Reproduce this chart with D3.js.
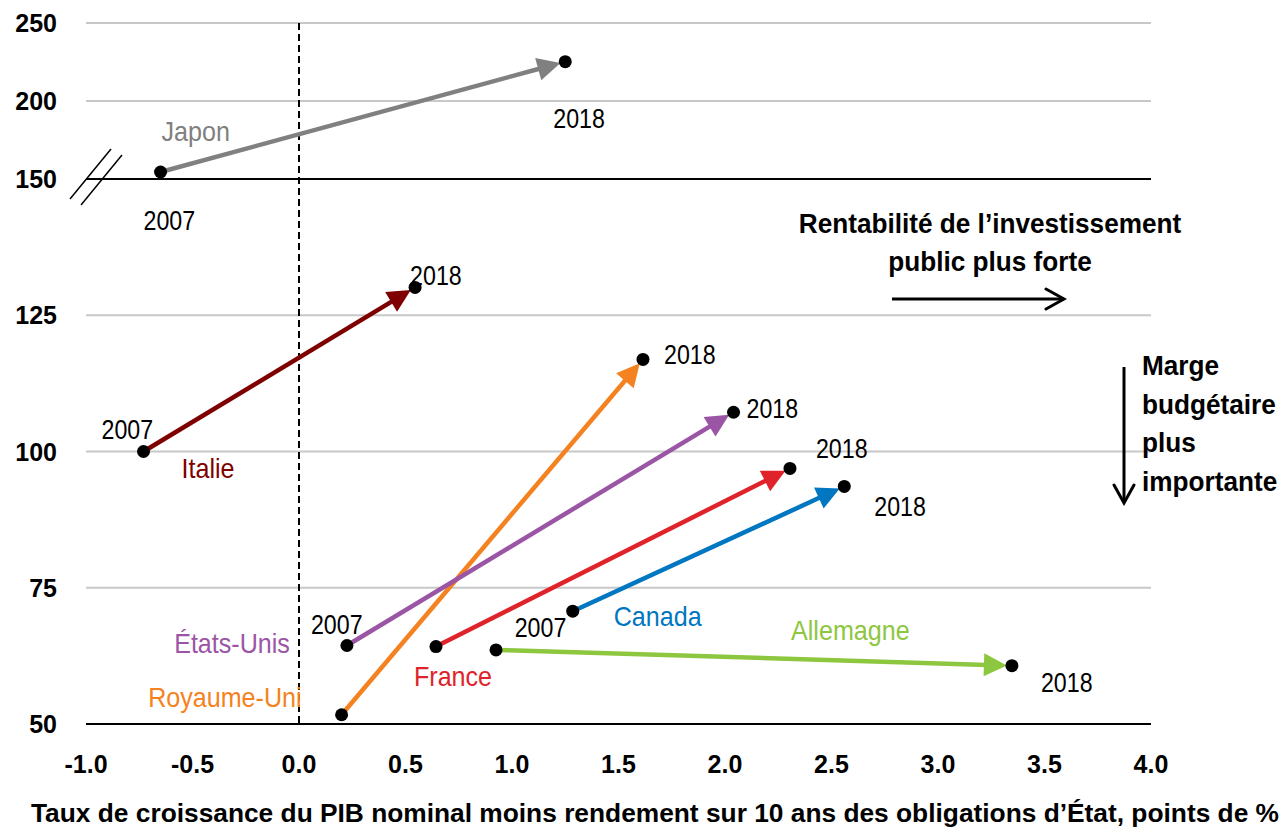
<!DOCTYPE html>
<html><head><meta charset="utf-8">
<script src="https://cdn.jsdelivr.net/npm/d3@7"></script>
<style>
body{margin:0;background:#fff}
text{font-family:"Liberation Sans",Arial,sans-serif}
</style>
</head><body><svg id="c" width="1282" height="829"></svg>
<script>
// ---- data ----
const countries = ["Japon","Italie","Royaume-Uni","États-Unis","France","Canada","Allemagne"];
const x2007 = [-0.65, -0.73, 0.20, 0.225, 0.643, 1.285, 0.925];
const y2007 = [154.5, 100.0, 51.7, 64.4, 64.2, 70.7, 63.6];
const x2018 = [1.25, 0.545, 1.615, 2.04, 2.305, 2.56, 3.347];
const y2018 = [225.2, 130.1, 116.9, 107.2, 96.9, 93.6, 60.7];
const colors = ["#808080","#7f0000","#f58220","#9b55a5","#e0232b","#0077c0","#8dc63f"];
const xTicks = [-1, -0.5, 0, 0.5, 1, 1.5, 2, 2.5, 3, 3.5, 4];
const yTicks = [50, 75, 100, 125, 150, 200, 250];
const yTicksBlack = [50, 150];
const xTitle = "Taux de croissance du PIB nominal moins rendement sur 10 ans des obligations d’État, points de  %";
const noteRight = ["Rentabilité de l’investissement", "public plus forte"];
const noteDown = ["Marge", "budgétaire", "plus", "importante"];

// ---- layout (label offsets relative to points) ----
const nameLabels = [ // [dx, dy, anchor] relative to 2007 point
  [1, -31, "start"], [38, 26, "start"], [-40, -8, "end"], [-57, 7, "end"],
  [-22, 39, "start"], [41, 15, "start"], [295, -10, "start"]
];
const yearLabels = [ // [country index, year, dx, dy]
  [0, "2007", -17, 58], [0, "2018", -12, 66],
  [1, "2007", -42, -13], [1, "2018", -5, -2],
  [2, "2018", 21, 5],
  [3, "2007", -36, -12], [3, "2018", 13, 6],
  [4, "2018", 26, -10],
  [5, "2007", -58, 26], [5, "2018", 30, 30],
  [6, "2018", 29, 26]
];

const svg = d3.select("#c");
const x = d3.scaleLinear().domain([-1, 4]).range([86, 1151]);
const y = d3.scaleLinear().domain([50, 150, 250]).range([724, 179, 23]);
const tr = (px, py, s) => `translate(${px},${py}) scale(${s},1)`;

// gridlines
svg.append("g").selectAll("line").data(yTicks).join("line")
  .attr("x1", x(-1)).attr("x2", x(4))
  .attr("y1", d => y(d)).attr("y2", d => y(d))
  .attr("stroke", d => yTicksBlack.includes(d) ? "#000" : "#c8c8c8")
  .attr("stroke-width", 2);

// axis break marks
const brk = svg.append("g").attr("stroke", "#000").attr("stroke-width", 1.5);
[[0, 0], [11, 6]].forEach(([ox, oy]) => {
  brk.append("line").attr("x1", 70 + ox).attr("y1", y(150) + 20 + oy)
    .attr("x2", 111 + ox).attr("y2", y(150) - 30 + oy);
});

// y tick labels
svg.append("g").selectAll("text").data(yTicks).join("text")
  .attr("x", 57).attr("y", d => y(d) + 9)
  .attr("text-anchor", "end").attr("font-weight", "bold").attr("font-size", 25)
  .text(d => d);

// x tick labels
svg.append("g").selectAll("text").data(xTicks).join("text")
  .attr("x", d => x(d)).attr("y", 773)
  .attr("text-anchor", "middle").attr("font-weight", "bold").attr("font-size", 25)
  .text(d => d.toFixed(1));

// x title
svg.append("text").attr("x", 655).attr("y", 822).attr("text-anchor", "middle")
  .attr("font-weight", "bold").attr("font-size", 25)
  .attr("textLength", 1248).attr("lengthAdjust", "spacingAndGlyphs").text(xTitle);

// zero dashed line
svg.append("line").attr("x1", x(0)).attr("x2", x(0)).attr("y1", y(250)).attr("y2", y(50))
  .attr("stroke", "#000").attr("stroke-width", 2).attr("stroke-dasharray", "7,4");

// arrows
const g = svg.append("g");
countries.forEach((c, i) => {
  const p0 = [x(x2007[i]), y(y2007[i])];
  const p1 = [x(x2018[i]), y(y2018[i])];
  const dx = p1[0] - p0[0], dy = p1[1] - p0[1];
  const L = Math.hypot(dx, dy), ux = dx / L, uy = dy / L;
  const tip = [p1[0] - ux * 5, p1[1] - uy * 5];
  const hl = 23, hw = 11.5;
  const base = [tip[0] - ux * hl, tip[1] - uy * hl];
  g.append("line").attr("x1", p0[0]).attr("y1", p0[1])
    .attr("x2", base[0] + ux * 3).attr("y2", base[1] + uy * 3)
    .attr("stroke", colors[i]).attr("stroke-width", 4.5);
  g.append("polygon").attr("fill", colors[i]).attr("points", [
    tip, [base[0] - uy * hw, base[1] + ux * hw], [base[0] + uy * hw, base[1] - ux * hw]
  ].map(p => p.join(",")).join(" "));
});
// dots
const pts = countries.flatMap((c, i) => [[x2007[i], y2007[i]], [x2018[i], y2018[i]]]);
svg.append("g").selectAll("circle").data(pts).join("circle")
  .attr("cx", d => x(d[0])).attr("cy", d => y(d[1])).attr("r", 6.5).attr("fill", "#000");

// country labels
svg.append("g").selectAll("text").data(countries).join("text")
  .attr("transform", (d, i) => tr(x(x2007[i]) + nameLabels[i][0], y(y2007[i]) + nameLabels[i][1], 0.93))
  .attr("text-anchor", (d, i) => nameLabels[i][2])
  .attr("font-size", 27).attr("fill", (d, i) => colors[i]).text(d => d);

// year labels
svg.append("g").selectAll("text").data(yearLabels).join("text")
  .attr("transform", d => tr(
    (d[1] === "2007" ? x(x2007[d[0]]) : x(x2018[d[0]])) + d[2],
    (d[1] === "2007" ? y(y2007[d[0]]) : y(y2018[d[0]])) + d[3], 0.86))
  .attr("font-size", 27).attr("fill", "#000").text(d => d[1]);

// annotations
svg.append("defs").append("marker").attr("id", "open").attr("viewBox", "0 0 24 24")
  .attr("refX", 21).attr("refY", 12).attr("markerWidth", 24).attr("markerHeight", 24)
  .attr("markerUnits", "userSpaceOnUse").attr("orient", "auto")
  .append("path").attr("d", "M3,2 L21,12 L3,22").attr("fill", "none")
  .attr("stroke", "#000").attr("stroke-width", 3).attr("stroke-linecap", "round");
svg.selectAll(".nr").data(noteRight).join("text").attr("class", "nr")
  .attr("transform", (d, i) => tr(990, 233 + i * 38, 0.97)).attr("text-anchor", "middle")
  .attr("font-weight", "bold").attr("font-size", 27).text(d => d);
svg.append("line").attr("x1", 892).attr("x2", 1064).attr("y1", 299).attr("y2", 299)
  .attr("stroke", "#000").attr("stroke-width", 3).attr("marker-end", "url(#open)");
svg.selectAll(".nd").data(noteDown).join("text").attr("class", "nd")
  .attr("transform", (d, i) => tr(1142, 375 + i * 38.5, 0.97))
  .attr("font-weight", "bold").attr("font-size", 27).text(d => d);
svg.append("line").attr("x1", 1124).attr("x2", 1124).attr("y1", 367).attr("y2", 503)
  .attr("stroke", "#000").attr("stroke-width", 3).attr("marker-end", "url(#open)");
</script>
</body></html>
